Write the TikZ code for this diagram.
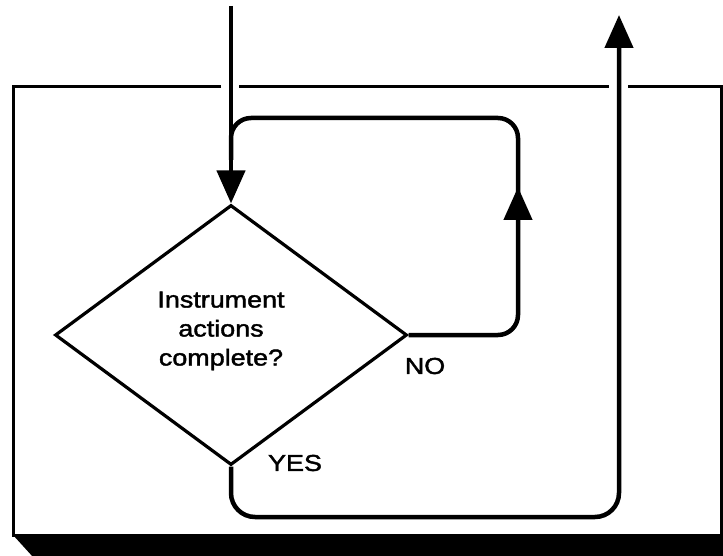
\documentclass[tikz,border=0pt]{standalone}
\usepackage{fontspec}
\setmainfont{Liberation Sans}[FakeStretch=1.17,FakeBold=1.8]
\usetikzlibrary{shapes.geometric,arrows.meta}
\begin{document}
\begin{tikzpicture}[x=1pt,y=-1pt,
  frame/.style={line width=3pt},
  flow/.style={line width=4.5pt, rounded corners=20pt},
  bigtip/.style={-{Triangle[length=33pt 0 0,width=28pt 0 0]}},
  decision/.style={diamond, draw, line width=3.2pt, minimum width=352pt,
    minimum height=260pt, inner sep=0pt},
  lbl/.style={font=\fontsize{23}{29}\selectfont, inner sep=0pt, align=center}]
\useasboundingbox (0,0) rectangle (723,556);

% module frame with its drop shadow
\fill[black] (13,535) -- (33,557) -- (724,557) -- (724,535) -- cycle;
\draw[frame] (221,87) -- (13,87) -- (13,535) -- (721,535) -- (721,87) -- (628,87);
\draw[frame] (239,87) -- (609,87);

% decision
\node[decision] (dec) at (231,335) {};
\node[lbl] (q) at (221,331) {Instrument\\actions\\complete?};
\node[lbl] (no) at (425,366) {NO};
\node[lbl] (yes) at (295,463) {YES};

% bend points of the flow lines
\coordinate (in) at (231,6);
\coordinate (noA) at (518,335);
\coordinate (noB) at (518,118);
\coordinate (noC) at (231,118);
\coordinate (noD) at (231,160);
\coordinate (noArrowBase) at (518,240);
\coordinate (noArrowTip) at (518,187);
\coordinate (yesA) at (231,517);
\coordinate (yesB) at (619,517);
\coordinate (out) at (619,15);

% entry
\draw[flow, bigtip] (in) -- (dec.north);
% NO: loop back to the entry
\draw[flow] (dec.east) -- (noA) -- (noB) -- (noC) -- (noD);
\draw[line width=4.5pt, bigtip] (noArrowBase) -- (noArrowTip);
% YES: exit
\draw[flow, rounded corners=24pt, bigtip] (dec.south) -- (yesA) -- (yesB) -- (out);
\end{tikzpicture}
\end{document}
